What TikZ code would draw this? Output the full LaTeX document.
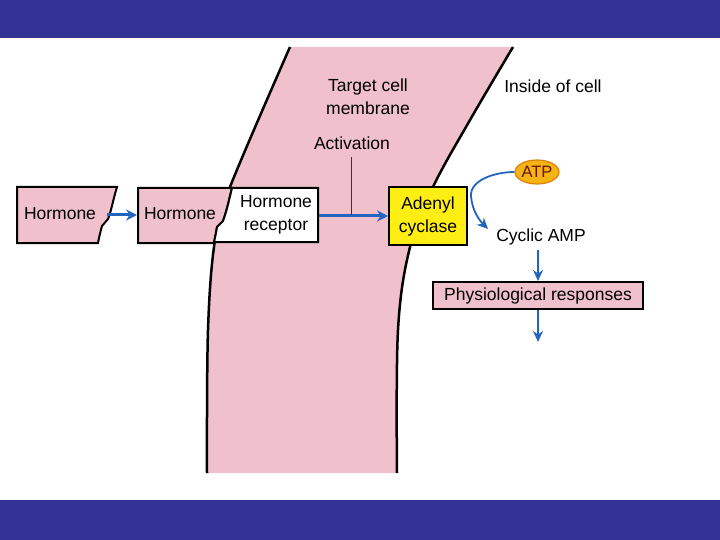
\documentclass[tikz,border=0pt]{standalone}
\usepackage{fontspec}
\setmainfont{Liberation Sans}
\usetikzlibrary{arrows.meta,shapes.geometric}
\definecolor{band}{RGB}{51,51,150}
\definecolor{memb}{RGB}{240,192,204}
\definecolor{arrowblue}{RGB}{35,100,190}
\definecolor{adyellow}{RGB}{255,238,20}
\definecolor{atporange}{RGB}{245,180,20}
\definecolor{atpedge}{RGB}{220,130,10}
\tikzset{
  lbl/.style={font=\fontsize{17.5}{23}\selectfont, text=black, inner sep=0pt, align=center},
  boxline/.style={draw=black, line width=2pt},
  flow/.style={draw=arrowblue, line width=3pt, -{Stealth[length=11pt,width=11pt]}},
  thinflow/.style={draw=arrowblue, line width=1.8pt, -{Stealth[length=11pt,width=10pt]}},
}
\begin{document}
\begin{tikzpicture}[x=1pt,y=-1pt]
\useasboundingbox (0,0) rectangle (720,540);
% bands
\fill[band] (0,0) rectangle (720,38);
\fill[band] (0,500) rectangle (720,540);
% membrane
\fill[memb] plot[smooth,tension=0.6] coordinates {(290,47) (230,187) (215,240) (208,330) (207,473)}
  -- plot[smooth,tension=0.6] coordinates {(397,473) (398,330) (410,247) (433,187) (470,120) (513,47)} -- cycle;
\draw[line width=2.5pt] plot[smooth,tension=0.6] coordinates {(290,47) (230,187) (215,240) (208,330) (207,473)};
\draw[line width=2.5pt] plot[smooth,tension=0.6] coordinates {(513,47) (470,120) (433,187) (410,247) (398,330) (397,473)};
% hormone box 1
\filldraw[fill=memb, boxline] (17,187) -- (117,187) .. controls (113,200) and (111,212) .. (108,219) -- (102,226) .. controls (100,233) and (99,238) .. (98,243) -- (17,243) -- cycle;
\node[lbl] (h1) at (60,214) {Hormone};
% hormone box 2
\filldraw[fill=memb, boxline] (138,188) -- (232,188) .. controls (229,200) and (227,210) .. (223,221) -- (217,227) .. controls (216,233) and (215,238) .. (214,243) -- (138,243) -- cycle;
\node[lbl] (h2) at (180,214) {Hormone};
% receptor
\filldraw[fill=white, boxline] (232,188) -- (318,188) -- (318,242) -- (214,242) .. controls (215,238) and (216,233) .. (217,227) -- (223,221) .. controls (227,210) and (229,200) .. (232,188) -- cycle;
\node[lbl] (rec) at (276,215) {Hormone\\receptor};
\coordinate (h1e) at (107,215);
\coordinate (h2w) at (137,215);
\coordinate (rece) at (319,216);
% adenyl cyclase
\node[lbl, boxline, fill=adyellow, minimum width=78pt, minimum height=58pt] (ac) at (428,216) {Adenyl\\cyclase};
\draw[flow] (h1e) -- (h2w);
\draw[flow] (rece) -- (ac.west);
% activation
\node[lbl] (act) at (352,143) {Activation};
\coordinate (actb) at (351,215);
\draw[line width=1pt, black!80] (351,157) -- (actb);
% labels
\node[lbl] (tcm) at (368,97) {Target cell\\membrane};
\node[lbl] (inside) at (553,86) {Inside of cell};
% ATP
\node[ellipse, draw=atpedge, line width=1.2pt, fill=atporange, minimum width=44pt, minimum height=24pt, inner sep=0pt, font=\fontsize{16.5}{20}\selectfont, text={rgb,255:red,100;green,20;blue,10}] (atp) at (537,172) {ATP};
\coordinate (camptip) at (488,229);
\draw[thinflow] (atp.west) .. controls (495,172) and (470,180) .. (471,196) .. controls (472,210) and (479,220) .. (camptip);
% cyclic AMP
\node[lbl] (camp) at (541,237) {Cyclic AMP};
\node[lbl, boxline, fill=memb, minimum width=210pt, minimum height=27pt] (phys) at (538,295.5) {Physiological responses};
\draw[thinflow] (538,250) -- (phys.north);
\coordinate (end) at (538,342);
\draw[thinflow] (phys.south) -- (end);
\end{tikzpicture}
\end{document}
